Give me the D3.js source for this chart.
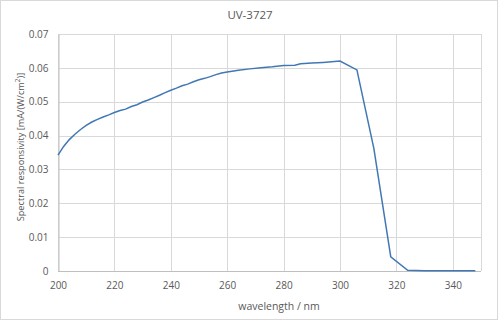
<!DOCTYPE html>
<html>
<head>
<meta charset="utf-8">
<script src="https://cdn.jsdelivr.net/npm/d3@7"></script>
<style>
  body { margin: 0; background: #fff; }
  text { font-family: "Open Sans", "Liberation Sans", sans-serif; fill: #595959; }
</style>
</head>
<body>
<svg id="chart" width="500" height="321"></svg>
<script>
// wavelength [nm] and spectral responsivity [mA/(W/cm2)]
const wavelength = [200, 202, 204, 206, 208, 210, 212, 214, 216, 218, 220, 222, 224, 226, 228,
  230, 232, 234, 236, 238, 240, 242, 244, 246, 248, 250, 252, 254, 256, 258, 260, 264, 268,
  272, 276, 280, 284, 286, 290, 294, 300, 306, 312, 318, 324, 330, 336, 342, 348];
const responsivity = [0.0342, 0.0368, 0.0388, 0.0404, 0.0418, 0.0430, 0.0440, 0.0448, 0.0455,
  0.0461, 0.0468, 0.0474, 0.0478, 0.0486, 0.0491, 0.0499, 0.0505, 0.0512, 0.0519, 0.0527,
  0.0534, 0.0540, 0.0547, 0.0552, 0.0559, 0.0565, 0.0569, 0.0574, 0.0580, 0.0585, 0.0588,
  0.0593, 0.0597, 0.0600, 0.0603, 0.0607, 0.0608, 0.0612, 0.0614, 0.0616, 0.0620, 0.0594,
  0.0362, 0.0042, 0.0002, 0.0001, 0.0001, 0.0001, 0.0001];

const xTicks = [200, 220, 240, 260, 280, 300, 320, 340];
const yTicks = [0, 0.01, 0.02, 0.03, 0.04, 0.05, 0.06, 0.07];

const title = "UV-3727";
const xLabel = "wavelength / nm";

const svg = d3.select("#chart");

// outer frame
svg.append("rect")
  .attr("x", 0.5).attr("y", 0.5)
  .attr("width", 497).attr("height", 319)
  .attr("fill", "#fff")
  .attr("stroke", "#d9d9d9");

const plotL = 58, plotR = 481, plotT = 34, plotB = 271;

const x = d3.scaleLinear().domain([200, 350]).range([plotL, plotR]);
const y = d3.scaleLinear().domain([0, 0.07]).range([plotB, plotT]);

// grid lines
svg.append("g")
  .selectAll("line")
  .data(xTicks.concat([350]))
  .join("line")
    .attr("x1", d => Math.round(x(d)) + 0.5).attr("x2", d => Math.round(x(d)) + 0.5)
    .attr("y1", plotT).attr("y2", plotB)
    .attr("stroke", "#d9d9d9");

svg.append("g")
  .selectAll("line")
  .data(yTicks.slice(1))
  .join("line")
    .attr("x1", plotL).attr("x2", plotR)
    .attr("y1", d => Math.round(y(d)) + 0.5).attr("y2", d => Math.round(y(d)) + 0.5)
    .attr("stroke", "#d9d9d9");

// axes
const xAxis = svg.append("g")
  .attr("transform", `translate(0,${Math.round(plotB) + 0.5})`)
  .call(d3.axisBottom(x).tickValues(xTicks).tickSize(0).tickPadding(10));
const yAxis = svg.append("g")
  .attr("transform", `translate(${Math.round(plotL) + 0.5},0)`)
  .call(d3.axisLeft(y).tickValues(yTicks).tickSize(0).tickPadding(10)
    .tickFormat(d => d === 0 ? "0" : d3.format(".2f")(d)));

[xAxis, yAxis].forEach(g => {
  g.select(".domain").attr("stroke", "#bfbfbf");
  g.selectAll("text").attr("font-size", 10).attr("fill", "#595959")
    .attr("font-family", "'Open Sans', 'Liberation Sans', sans-serif");
});
xAxis.select(".domain").attr("d", `M${plotL},0H${plotR}`);

// data line
const line = d3.line()
  .x((d, i) => x(wavelength[i]))
  .y(d => y(d));

svg.append("path")
  .datum(responsivity)
  .attr("d", line)
  .attr("fill", "none")
  .attr("stroke", "#4178b4")
  .attr("stroke-width", 1.5);

// title and labels
svg.append("text")
  .attr("x", 250).attr("y", 19)
  .attr("text-anchor", "middle")
  .attr("font-size", 11.5)
  .text(title);

svg.append("text")
  .attr("x", 279).attr("y", 310)
  .attr("text-anchor", "middle")
  .attr("font-size", 10.5)
  .text(xLabel);

const yl = svg.append("text")
  .attr("transform", "translate(23.5,147) rotate(-90)")
  .attr("text-anchor", "middle")
  .attr("font-size", 9.2);
yl.append("tspan").text("Spectral responsivity [mA/(W/cm");
yl.append("tspan").attr("font-size", 6.5).attr("dy", -4).text("2");
yl.append("tspan").attr("dy", 4).text(")]");
</script>
</body>
</html>
